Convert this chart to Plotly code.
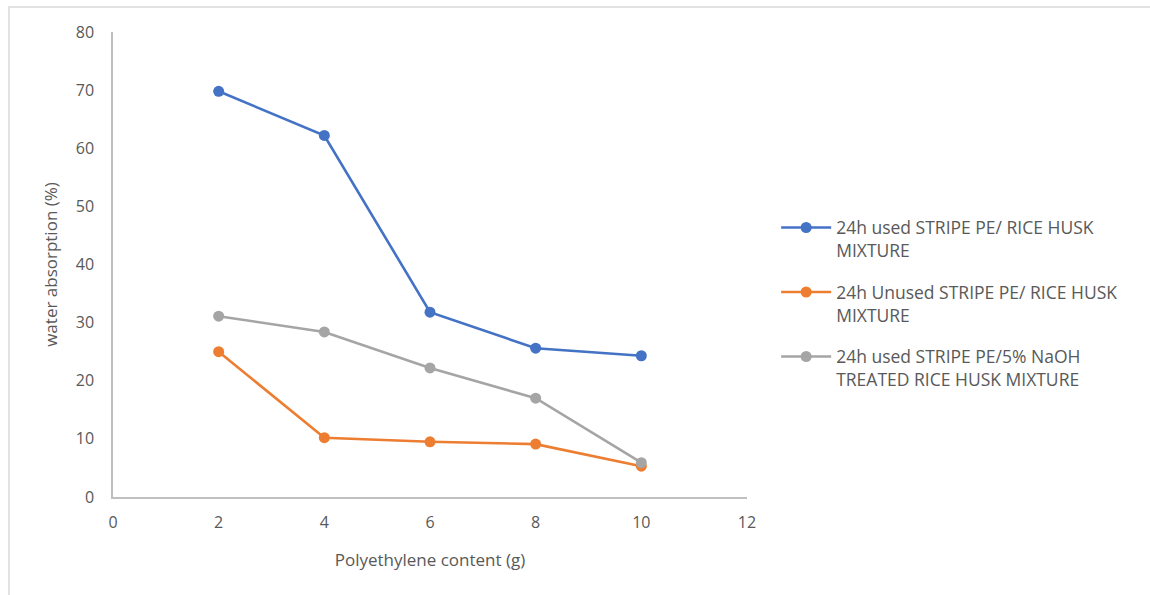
import plotly.graph_objects as go

x_vals = [2, 4, 6, 8, 10]
used = [69.8, 62.2, 31.8, 25.6, 24.3]
unused = [25.0, 10.2, 9.5, 9.1, 5.3]
naoh = [31.1, 28.4, 22.2, 17.0, 5.9]
names = [
    "24h used STRIPE PE/ RICE HUSK<br>MIXTURE",
    "24h Unused STRIPE PE/ RICE HUSK<br>MIXTURE",
    "24h used STRIPE PE/5% NaOH<br>TREATED RICE HUSK MIXTURE",
]
colors = ["#4472C4", "#ED7D31", "#A5A5A5"]

fig = go.Figure()
for i, (ys, nm, c) in enumerate(zip([used, unused, naoh], names, colors)):
    fig.add_trace(go.Scatter(
        x=x_vals, y=ys, name=nm, mode="lines+markers", legendgroup=f"g{i}",
        line=dict(color=c, width=2.6),
        marker=dict(color=c, size=11),
    ))

font_fam = "Open Sans, Liberation Sans, sans-serif"
fig.update_layout(
    width=1150, height=595,
    margin=dict(l=113, r=403, t=32, b=98),
    paper_bgcolor="white", plot_bgcolor="white",
    font=dict(family=font_fam, color="#595959", size=16),
    showlegend=True,
    legend=dict(x=1.046, y=0.618, xanchor="left", yanchor="top",
                font=dict(size=17.5, color="#595959"), valign="top",
                traceorder="grouped", tracegroupgap=16, itemwidth=50),
    xaxis=dict(range=[0, 12], tickvals=[0, 2, 4, 6, 8, 10, 12],
               showgrid=False, zeroline=False, showline=True,
               linecolor="#BFBFBF", linewidth=1.5, ticks="",
               ticklabelstandoff=10,
               title=dict(text="Polyethylene content (g)", font=dict(size=17), standoff=22),
               tickfont=dict(size=16)),
    yaxis=dict(range=[0, 80], tickvals=[0, 10, 20, 30, 40, 50, 60, 70, 80],
               showgrid=False, zeroline=False, showline=True,
               linecolor="#BFBFBF", linewidth=1.5, ticks="",
               ticklabelstandoff=14,
               title=dict(text="water absorption (%)", font=dict(size=17), standoff=14),
               tickfont=dict(size=16)),
)
fig.add_shape(type="rect", xref="paper", yref="paper",
              x0=-104/634, x1=1.0 + 420/634, y0=-120/465, y1=1 + 25/465,
              line=dict(color="#D9D9D9", width=1.5), layer="below")
fig.write_html("out.html")
